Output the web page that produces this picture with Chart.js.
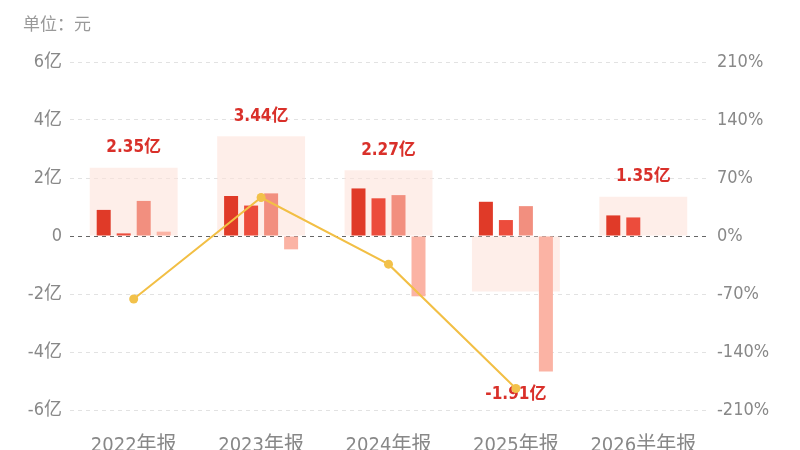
<!DOCTYPE html>
<html>
<head>
<meta charset="utf-8">
<script src="https://cdn.jsdelivr.net/npm/chart.js@4"></script>
<style>
html,body{margin:0;padding:0;background:#fff;}
#wrap{width:800px;height:450px;}
</style>
</head>
<body>
<div id="wrap"><canvas id="c" width="800" height="450"></canvas></div>
<script>
// ---- data (亿元) ----
const categories = ['2022年报', '2023年报', '2024年报', '2025年报', '2026半年报'];
const q1 = [0.90, 1.38, 1.64, 1.18, 0.71];
const q2 = [0.09, 1.05, 1.30, 0.55, 0.64];
const q3 = [1.21, 1.47, 1.41, 1.03, null];
const q4 = [0.15, -0.46, -2.08, -4.67, null];
const totals = [2.35, 3.44, 2.27, -1.91, 1.35];
const growth = [-76, 46.4, -34.0, -184.1, null];
const leftTicks = [-6, -4, -2, 0, 2, 4, 6];
const rightTicks = [-210, -140, -70, 0, 70, 140, 210];
const unitText = '单位：元';

const numFont = '"DejaVu Sans Condensed", "Noto Sans CJK SC", sans-serif';

const labelPlugin = {
  id: 'totalLabels',
  beforeDatasetsDraw(chart) {
    const ctx = chart.ctx;
    const x = chart.scales.x, y = chart.scales.y;
    ctx.save();
    ctx.font = 'bold 17px ' + numFont;
    ctx.fillStyle = '#d9302a';
    ctx.textAlign = 'center';
    ctx.textBaseline = 'middle';
    totals.forEach((t, i) => {
      const vals = [t, q1[i], q2[i], q3[i], q4[i]].filter(v => v !== null);
      const cx = x.getPixelForValue(i);
      let py;
      if (t >= 0) {
        py = y.getPixelForValue(Math.max(...vals)) - 20;
      } else {
        py = y.getPixelForValue(Math.min(...vals)) + 23;
      }
      ctx.fillText(t.toFixed(2) + '亿', cx, py);
    });
    ctx.restore();
  },
  afterDraw(chart) {
    const ctx = chart.ctx;
    ctx.save();
    ctx.font = '17px "Noto Sans CJK SC", sans-serif';
    ctx.fillStyle = '#999';
    ctx.textAlign = 'left';
    ctx.textBaseline = 'middle';
    ctx.fillText(unitText, 23, 24);
    ctx.restore();
  }
};

const barCommon = {
  type: 'bar',
  xAxisID: 'x',
  yAxisID: 'y',
  categoryPercentage: 0.628,
  barPercentage: 0.7,
  order: 1,
  borderWidth: 0
};

new Chart(document.getElementById('c'), {
  data: {
    labels: categories,
    datasets: [
      { type: 'line', data: growth, yAxisID: 'y1', xAxisID: 'x', order: 0,
        borderColor: '#f2bf45', backgroundColor: '#f2bf45', borderWidth: 2,
        pointRadius: 4.5, pointBorderWidth: 0, pointBackgroundColor: '#f2c14a',
        tension: 0, spanGaps: false },
      Object.assign({}, barCommon, { data: q1, backgroundColor: '#e03a28' }),
      Object.assign({}, barCommon, { data: q2, backgroundColor: '#ec4c3c' }),
      Object.assign({}, barCommon, { data: q3, backgroundColor: '#f28f7f' }),
      Object.assign({}, barCommon, { data: q4, backgroundColor: '#fbb3a4' }),
      { type: 'bar', data: totals, xAxisID: 'x', yAxisID: 'y', order: 2,
        grouped: false,
        backgroundColor: 'rgba(253,226,219,0.6)', borderWidth: 0,
        categoryPercentage: 1, barPercentage: 0.69 }
    ]
  },
  options: {
    responsive: false,
    animation: false,
    devicePixelRatio: 1,
    layout: { padding: { top: 62, left: 0, right: 0, bottom: 0 } },
    plugins: { legend: { display: false }, tooltip: { enabled: false }, title: { display: false } },
    scales: {
      x: {
        type: 'category',
        position: 'bottom',
        grid: { display: false, drawTicks: false },
        border: { display: false },
        ticks: { color: '#888', font: { size: 20, family: numFont }, padding: 24, maxRotation: 0, autoSkip: false },
        afterFit(s) { s.height = 40; }
      },
      y: {
        position: 'left',
        min: -6, max: 6,
        afterBuildTicks(s) { s.ticks = leftTicks.map(v => ({ value: v })); },
        grid: {
          drawTicks: false,
          color: (c) => (c.tick && c.tick.value === 0) ? '#666' : '#e2e2e2',
          lineWidth: 1
        },
        border: { display: false, dash: [4, 4] },
        ticks: {
          color: '#888', padding: 8,
          font: { size: 18, family: numFont },
          callback: (v) => v === 0 ? '0' : v + '亿'
        },
        afterFit(s) { s.width = 70; }
      },
      y1: {
        position: 'right',
        min: -210, max: 210,
        afterBuildTicks(s) { s.ticks = rightTicks.map(v => ({ value: v })); },
        grid: { display: false, drawTicks: false },
        border: { display: false },
        ticks: {
          color: '#888', padding: 10,
          font: { size: 18, family: numFont },
          callback: (v) => v + '%'
        },
        afterFit(s) { s.width = 93; }
      }
    }
  },
  plugins: [labelPlugin]
});
</script>
</body>
</html>
